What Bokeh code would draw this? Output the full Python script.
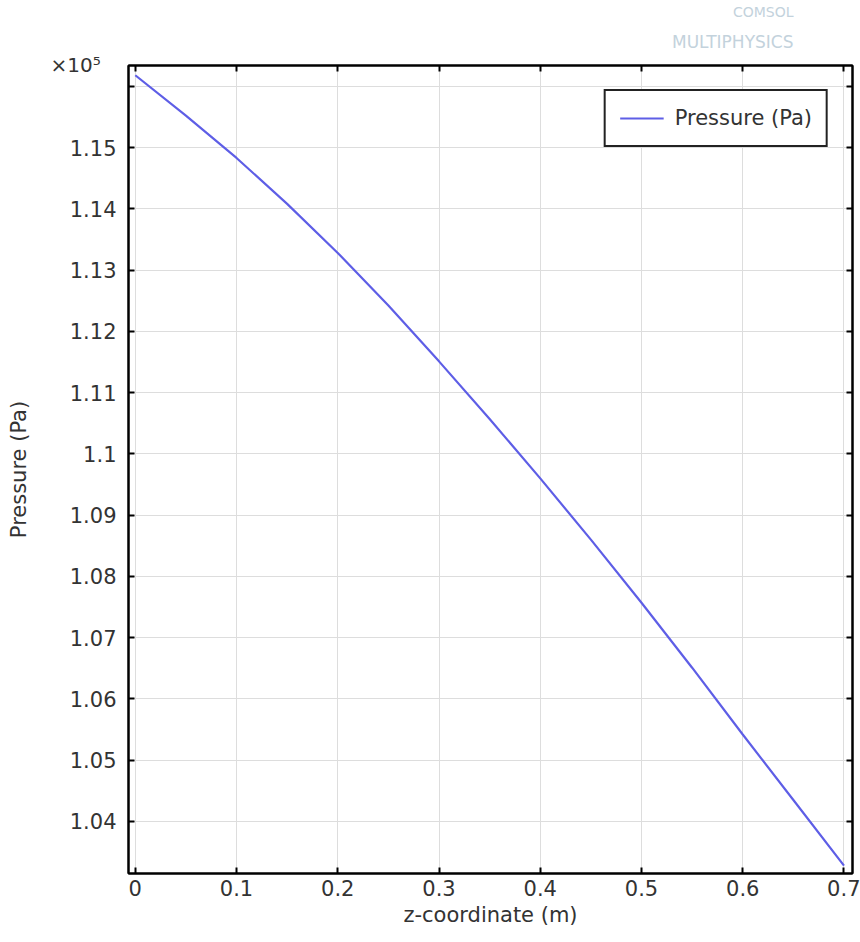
from bokeh.plotting import figure
from bokeh.models import (LinearAxis, FixedTicker, CustomJSTickFormatter, Title,
                          Legend, LegendItem, Range1d)
from bokeh.embed import file_html
from bokeh.resources import INLINE

# data
z_m = [0.0, 0.05, 0.1, 0.15, 0.2, 0.25, 0.3, 0.35, 0.4, 0.45, 0.5, 0.55, 0.6, 0.65, 0.7]
pressure_pa = [116180, 115520, 114830, 114080, 113280, 112420, 111510, 110570,
               109600, 108600, 107570, 106510, 105420, 104350, 103280]
x_ticks = [0, 0.1, 0.2, 0.3, 0.4, 0.5, 0.6, 0.7]
y_ticks = [104000, 105000, 106000, 107000, 108000, 109000, 110000, 111000,
           112000, 113000, 114000, 115000, 116000]

FONT = "DejaVu Sans"
TXT = "#333333"
LOGO = "#c3d2dc"

p = figure(width=860, height=942, output_backend="svg", toolbar_location=None,
           x_range=Range1d(-0.0067, 0.7084), y_range=Range1d(103151, 116339),
           min_border_left=128, min_border_right=8, min_border_top=65,
           min_border_bottom=69, background_fill_color="white",
           border_fill_color="white")
p.outline_line_color = "black"
p.outline_line_width = 2

line = p.line(z_m, pressure_pa, line_color="#5e5ee6", line_width=2.2)

yfmt = CustomJSTickFormatter(code="""
if (Math.abs(tick - 116000) < 1) { return ""; }
var s = (tick/1e5).toFixed(2);
s = s.replace(/0+$/, "").replace(/\\.$/, "");
return s;
""")
blank = CustomJSTickFormatter(code="return '';")

xa = p.xaxis[0]
ya = p.yaxis[0]
xa.ticker = FixedTicker(ticks=x_ticks)
ya.ticker = FixedTicker(ticks=y_ticks)
ya.formatter = yfmt
for ax in (xa, ya):
    ax.major_tick_in = 6
    ax.major_tick_out = 0
    ax.minor_tick_line_color = None
    ax.major_tick_line_color = "black"
    ax.major_tick_line_width = 2
    ax.axis_line_color = "black"
    ax.axis_line_width = 2
    ax.major_label_text_font = FONT
    ax.major_label_text_font_size = "21px"
    ax.major_label_text_color = TXT
    ax.axis_label_text_font = FONT
    ax.axis_label_text_font_size = "21px"
    ax.axis_label_text_font_style = "normal"
    ax.axis_label_text_color = TXT

xa.axis_label = "z-coordinate (m)"
ya.axis_label = "Pressure (Pa)"
xa.major_label_standoff = 6
ya.major_label_standoff = 12
xa.axis_label_standoff = 4
ya.axis_label_standoff = 36

for loc in ("above", "right"):
    ax = LinearAxis(ticker=FixedTicker(ticks=x_ticks if loc == "above" else y_ticks),
                    formatter=blank)
    ax.major_tick_in = 6
    ax.major_tick_out = 0
    ax.minor_tick_line_color = None
    ax.major_tick_line_color = "black"
    ax.major_tick_line_width = 2
    ax.axis_line_color = "black"
    ax.axis_line_width = 2
    ax.major_label_text_font = FONT
    ax.major_label_text_font_size = "4px"
    ax.major_label_standoff = 0
    p.add_layout(ax, loc)

p.xgrid.ticker = FixedTicker(ticks=x_ticks)
p.ygrid.ticker = FixedTicker(ticks=y_ticks)
for g in (p.xgrid[0], p.ygrid[0]):
    g.grid_line_color = "#dddddd"
    g.grid_line_width = 1

legend = Legend(items=[LegendItem(label="Pressure (Pa)", renderers=[line])],
                location="top_right", margin=24,
                border_line_color="#222222", border_line_width=2,
                border_line_alpha=1.0,
                label_text_font=FONT, label_text_font_size="21px",
                label_text_color=TXT, glyph_width=44, glyph_height=26,
                label_standoff=11, padding=14, label_height=26,
                background_fill_alpha=1)
p.add_layout(legend)

# "x10^5" multiplier at the top of the y axis
p.add_layout(Title(text="\u00d710\u2075", align="left", offset=-78,
                   text_font=FONT, text_font_size="20px",
                   text_font_style="normal", text_color=TXT, standoff=-22), "above")
# COMSOL watermark
p.add_layout(Title(text="MULTIPHYSICS", align="right", offset=59,
                   text_font=FONT, text_font_size="17px",
                   text_font_style="normal", text_color=LOGO, standoff=20), "above")
p.add_layout(Title(text="COMSOL", align="right", offset=59,
                   text_font=FONT, text_font_size="14px",
                   text_font_style="normal", text_color=LOGO, standoff=0), "above")

open("out.html", "w").write(file_html(p, INLINE))
